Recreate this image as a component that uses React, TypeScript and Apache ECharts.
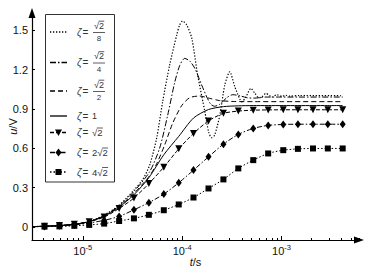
import React, { useEffect, useRef } from "react";
import * as echarts from "echarts";

const FONT = '"Liberation Sans", Arial, Helvetica, sans-serif';

// ---- data (t in seconds, u in volts) ----
const tStart = 3.2e-6;
const uStart = 0.002;

const tMarks = [4.12e-6, 5.82e-6, 8.22e-6, 1.16e-5, 1.64e-5, 2.32e-5, 3.27e-5, 4.62e-5, 6.53e-5, 9.23e-5, 1.30e-4, 1.84e-4, 2.60e-4, 3.67e-4, 5.19e-4, 7.33e-4, 1.04e-3, 1.46e-3, 2.07e-3, 2.92e-3, 4.12e-3];
const uZeta1 = [0.005, 0.01, 0.02, 0.04, 0.08, 0.15, 0.245, 0.375, 0.55, 0.69, 0.83, 0.895, 0.917, 0.923, 0.925, 0.925, 0.925, 0.925, 0.925, 0.925, 0.925];
const uZetaSqrt2 = [0.005, 0.01, 0.02, 0.04, 0.075, 0.14, 0.22, 0.33, 0.455, 0.595, 0.713, 0.808, 0.866, 0.883, 0.89, 0.892, 0.893, 0.893, 0.893, 0.893, 0.893];
const uZeta2Sqrt2 = [0.003, 0.008, 0.015, 0.03, 0.05, 0.08, 0.13, 0.185, 0.25, 0.336, 0.433, 0.534, 0.631, 0.705, 0.751, 0.774, 0.781, 0.783, 0.783, 0.783, 0.783];
const uZeta4Sqrt2 = [0.002, 0.004, 0.008, 0.015, 0.025, 0.045, 0.065, 0.092, 0.127, 0.171, 0.224, 0.293, 0.362, 0.446, 0.509, 0.56, 0.585, 0.595, 0.598, 0.598, 0.598];

const tDashed = [4.12e-6, 5.82e-6, 8.22e-6, 1.16e-5, 1.64e-5, 2.32e-5, 3.27e-5, 4.70e-5, 5.53e-5, 6.66e-5, 8.02e-5, 9.89e-5, 1.19e-4, 1.50e-4, 1.89e-4, 2.39e-4, 3.38e-4, 5.38e-4, 1.04e-3, 4.12e-3];
const uDashed = [0.005, 0.01, 0.02, 0.04, 0.085, 0.155, 0.255, 0.39, 0.48, 0.624, 0.79, 0.925, 0.985, 0.998, 0.98, 0.963, 0.956, 0.955, 0.955, 0.955];

const tDashDot = [4.12e-6, 5.82e-6, 8.22e-6, 1.16e-5, 1.64e-5, 2.32e-5, 3.27e-5, 4.70e-5, 5.93e-5, 7.14e-5, 8.40e-5, 9.44e-5, 1.06e-4, 1.19e-4, 1.34e-4, 1.57e-4, 1.77e-4, 1.94e-4, 2.12e-4, 2.39e-4, 2.81e-4, 3.23e-4, 3.80e-4, 4.47e-4, 5.38e-4, 6.79e-4, 9.61e-4, 4.12e-3];
const uDashDot = [0.005, 0.01, 0.02, 0.04, 0.085, 0.16, 0.27, 0.42, 0.6, 0.85, 1.1, 1.23, 1.285, 1.265, 1.209, 1.082, 0.99, 0.935, 0.92, 0.935, 0.985, 1.008, 1.0, 0.985, 0.982, 0.99, 0.99, 0.99];

const tDotted = [4.12e-6, 5.82e-6, 8.22e-6, 1.16e-5, 1.64e-5, 2.32e-5, 3.27e-5, 4.00e-5, 4.70e-5, 5.53e-5, 6.36e-5, 7.48e-5, 8.81e-5, 9.44e-5, 1.01e-4, 1.11e-4, 1.25e-4, 1.43e-4, 1.69e-4, 1.85e-4, 1.98e-4, 2.12e-4, 2.39e-4, 2.68e-4, 3.01e-4, 3.38e-4, 3.80e-4, 3.98e-4, 4.37e-4, 4.91e-4, 5.38e-4, 5.90e-4, 6.33e-4, 6.95e-4, 7.62e-4, 7.98e-4, 8.96e-4, 1.01e-3, 1.10e-3, 1.21e-3, 1.52e-3, 4.12e-3];
const uDotted = [0.005, 0.01, 0.02, 0.04, 0.09, 0.165, 0.28, 0.36, 0.47, 0.675, 0.954, 1.234, 1.463, 1.54, 1.57, 1.54, 1.438, 1.16, 0.88, 0.72, 0.68, 0.70, 0.85, 1.08, 1.183, 1.07, 0.975, 0.954, 0.99, 1.056, 1.02, 0.985, 0.99, 1.018, 1.0, 0.99, 1.008, 0.995, 1.004, 0.997, 1.002, 1.0];

const yTicks = [0, 0.3, 0.6, 0.9, 1.2, 1.5];
const yTickLabels = ["0", "0.3", "0.6", "0.9", "1.2", "1.5"];
const xDecades = [-5, -4, -3];
const xDecadeLabels = ["-5", "-4", "-3"];
const seriesNames = ["ζ=√2/8", "ζ=√2/4", "ζ=√2/2", "ζ=1", "ζ=√2", "ζ=2√2", "ζ=4√2"];

// ---- styles ----
const X_MIN = -5.511;
const X_MAX = -2.221;
const Y_MIN = -0.1;
const Y_MAX = 1.631;

type Sty = { dash: number[] | null; marker: string | null };
const styles: Sty[] = [
  { dash: [1.3, 1.7], marker: null },
  { dash: [6, 2, 1.5, 2], marker: null },
  { dash: [5, 3], marker: null },
  { dash: null, marker: null },
  { dash: [4, 2], marker: "tri" },
  { dash: [5, 2, 1.5, 2], marker: "dia" },
  { dash: [1.5, 2], marker: "sq" },
];

const pairs = (t: number[], u: number[]) => {
  const out: any[] = [{ value: [Math.log10(tStart), uStart], symbol: "none" }];
  t.forEach((v, i) => out.push([Math.log10(v), u[i]]));
  return out;
};

function minorTicks(): number[] {
  const out: number[] = [];
  for (let e = -6; e <= -3; e++) {
    for (let k = 2; k <= 9; k++) {
      const v = Math.log10(k) + e;
      if (v > X_MIN && v < X_MAX) out.push(v);
    }
  }
  return out;
}

function legendGraphics(): any[] {
  const cv = document.createElement("canvas").getContext("2d")!;
  const tw = (s: string, size: number) => {
    cv.font = `${size}px ${FONT}`;
    return cv.measureText(s).width;
  };
  const rowsY = [32, 62.5, 91, 116, 132.5, 152.5, 172];
  const rows = [
    { kind: "frac", num: "√2", den: "8" },
    { kind: "frac", num: "√2", den: "4" },
    { kind: "frac", num: "√2", den: "2" },
    { kind: "plain", val: "1" },
    { kind: "rad", val: "√2" },
    { kind: "rad", val: "2√2" },
    { kind: "rad", val: "4√2" },
  ];
  const txtCol = "#333";
  const els: any[] = [];
  els.push({
    type: "rect", z: 100,
    shape: { x: 45.5, y: 14.5, width: 69, height: 167.5 },
    style: { fill: "#fff", stroke: "#333", lineWidth: 1 },
  });
  rowsY.forEach((y, i) => {
    const st = styles[i];
    els.push({
      type: "line", z: 101,
      shape: { x1: 50, y1: y, x2: 67, y2: y },
      style: { stroke: "#000", lineWidth: 1.3, lineDash: st.dash || null },
    });
    if (st.marker === "tri") {
      els.push({ type: "polygon", z: 102, shape: { points: [[55, y - 3], [62, y - 3], [58.5, y + 3.5]] }, style: { fill: "#000" } });
    } else if (st.marker === "dia") {
      els.push({ type: "polygon", z: 102, shape: { points: [[58.5, y - 4], [61.5, y], [58.5, y + 4], [55.5, y]] }, style: { fill: "#000" } });
    } else if (st.marker === "sq") {
      els.push({ type: "rect", z: 102, shape: { x: 55.5, y: y - 3, width: 6, height: 6 }, style: { fill: "#000" } });
    }
    els.push({ type: "text", z: 102, x: 77, y, style: { text: "ζ", font: `italic 10px ${FONT}`, fill: txtCol, align: "left", verticalAlign: "middle" } });
    els.push({ type: "text", z: 102, x: 82.5, y, style: { text: "=", font: `10px ${FONT}`, fill: txtCol, align: "left", verticalAlign: "middle" } });
    const r: any = rows[i];
    if (r.kind === "frac") {
      const cx = 99;
      const w = tw(r.num, 9);
      const left = cx - w / 2;
      const ny = y - 6.5;
      els.push({ type: "text", z: 102, x: left, y: ny, style: { text: r.num, font: `9px ${FONT}`, fill: txtCol, align: "left", verticalAlign: "middle" } });
      els.push({ type: "line", z: 102, shape: { x1: left + tw("√", 9) - 0.4, y1: ny - 4.3, x2: left + w + 0.3, y2: ny - 4.3 }, style: { stroke: txtCol, lineWidth: 0.8 } });
      els.push({ type: "line", z: 102, shape: { x1: 93, y1: y + 0.5, x2: 105, y2: y + 0.5 }, style: { stroke: txtCol, lineWidth: 0.8 } });
      els.push({ type: "text", z: 102, x: cx, y: y + 6.5, style: { text: r.den, font: `8px ${FONT}`, fill: txtCol, align: "center", verticalAlign: "middle" } });
    } else if (r.kind === "plain") {
      els.push({ type: "text", z: 102, x: 92, y, style: { text: r.val, font: `9px ${FONT}`, fill: txtCol, align: "left", verticalAlign: "middle" } });
    } else {
      const x0 = 92;
      const s = r.val as string;
      els.push({ type: "text", z: 102, x: x0, y, style: { text: s, font: `9.5px ${FONT}`, fill: txtCol, align: "left", verticalAlign: "middle" } });
      els.push({ type: "line", z: 102, shape: { x1: x0 + tw(s.slice(0, -1), 9.5) - 0.4, y1: y - 4.5, x2: x0 + tw(s, 9.5) + 0.3, y2: y - 4.5 }, style: { stroke: txtCol, lineWidth: 0.8 } });
    }
  });
  return els;
}

export default function App() {
  const ref = useRef<HTMLDivElement>(null);
  useEffect(() => {
    document.body.style.margin = "0";
    if (!ref.current) return;
    const chart = echarts.init(ref.current, undefined, { renderer: "svg" });

    const lineData = [
      pairs(tDotted, uDotted),
      pairs(tDashDot, uDashDot),
      pairs(tDashed, uDashed),
      pairs(tMarks, uZeta1),
      pairs(tMarks, uZetaSqrt2),
      pairs(tMarks, uZeta2Sqrt2),
      pairs(tMarks, uZeta4Sqrt2),
    ];
    const symbolOf = (m: string | null) =>
      m === "tri" ? "triangle" : m === "dia" ? "diamond" : m === "sq" ? "rect" : "none";
    const sizeOf = (m: string | null): any =>
      m === "tri" ? 7 : m === "dia" ? [6, 8] : m === "sq" ? 6 : 0;

    const series = lineData.map((d, i) => ({
      type: "line",
      name: seriesNames[i],
      data: d,
      smooth: 0.25,
      symbol: symbolOf(styles[i].marker),
      symbolSize: sizeOf(styles[i].marker),
      symbolRotate: styles[i].marker === "tri" ? 180 : 0,
      showSymbol: styles[i].marker !== null,
      z: styles[i].marker ? 3 : 2,
      lineStyle: { color: "#000", width: i === 0 ? 1.2 : 1, type: styles[i].dash || "solid" },
      itemStyle: { color: "#000" },
      emphasis: { disabled: true },
    }));

    const axisText = { color: "#111", fontFamily: FONT, fontSize: 11 };

    chart.setOption({
      animation: false,
      backgroundColor: "#fff",
      grid: { left: 32, right: 10, top: 13, bottom: 31, containLabel: false, outerBoundsMode: "none" },
      xAxis: [
        {
          type: "value",
          min: X_MIN,
          max: X_MAX,
          position: "bottom",
          axisLine: {
            show: true, onZero: false,
            lineStyle: { color: "#000", width: 1.2 },
            symbol: ["none", "triangle"], symbolSize: [7, 10], symbolOffset: [0, 0],
          },
          axisTick: { show: true, inside: true, length: 4, customValues: xDecades, lineStyle: { color: "#000", width: 1 } },
          axisLabel: {
            customValues: xDecades,
            margin: 3,
            formatter: (v: number) => {
              const idx = xDecades.findIndex((d) => Math.abs(d - v) < 1e-9);
              return `{b|10}{s|${idx >= 0 ? xDecadeLabels[idx] : ""}}`;
            },
            rich: {
              b: { ...axisText, fontSize: 11 },
              s: { ...axisText, fontSize: 7.5, padding: [0, 0, 8, 0] },
            },
          },
          splitLine: { show: false },
          name: "{i|t}/s",
          nameLocation: "middle",
          nameGap: 16,
          nameMoveOverlap: false,
          nameTextStyle: { ...axisText, rich: { i: { ...axisText, fontStyle: "italic" } } },
        },
        {
          type: "value",
          min: X_MIN,
          max: X_MAX,
          position: "bottom",
          axisLine: { show: false, onZero: false },
          axisTick: { show: true, inside: true, length: 2, customValues: minorTicks(), lineStyle: { color: "#000", width: 1 } },
          axisLabel: { show: false },
          splitLine: { show: false },
        },
      ],
      yAxis: {
        type: "value",
        min: Y_MIN,
        max: Y_MAX,
        axisLine: {
          show: true, onZero: false,
          lineStyle: { color: "#000", width: 1.2 },
          symbol: ["none", "triangle"], symbolSize: [7, 10], symbolOffset: [0, 0],
        },
        axisTick: { show: true, inside: true, length: 3, customValues: yTicks, lineStyle: { color: "#000", width: 1 } },
        axisLabel: {
          customValues: yTicks,
          margin: 4,
          ...axisText,
          formatter: (v: number) => {
            const idx = yTicks.findIndex((d) => Math.abs(d - v) < 1e-9);
            return idx >= 0 ? yTickLabels[idx] : "";
          },
        },
        splitLine: { show: false },
        name: "{i|u}/V",
        nameLocation: "middle",
        nameRotate: 90,
        nameGap: 14,
        nameMoveOverlap: false,
        nameTextStyle: { ...axisText, rich: { i: { ...axisText, fontStyle: "italic" } } },
      },
      series,
      graphic: { elements: legendGraphics() },
    });

    return () => chart.dispose();
  }, []);
  return <div ref={ref} style={{ width: 369, height: 271 }} />;
}
